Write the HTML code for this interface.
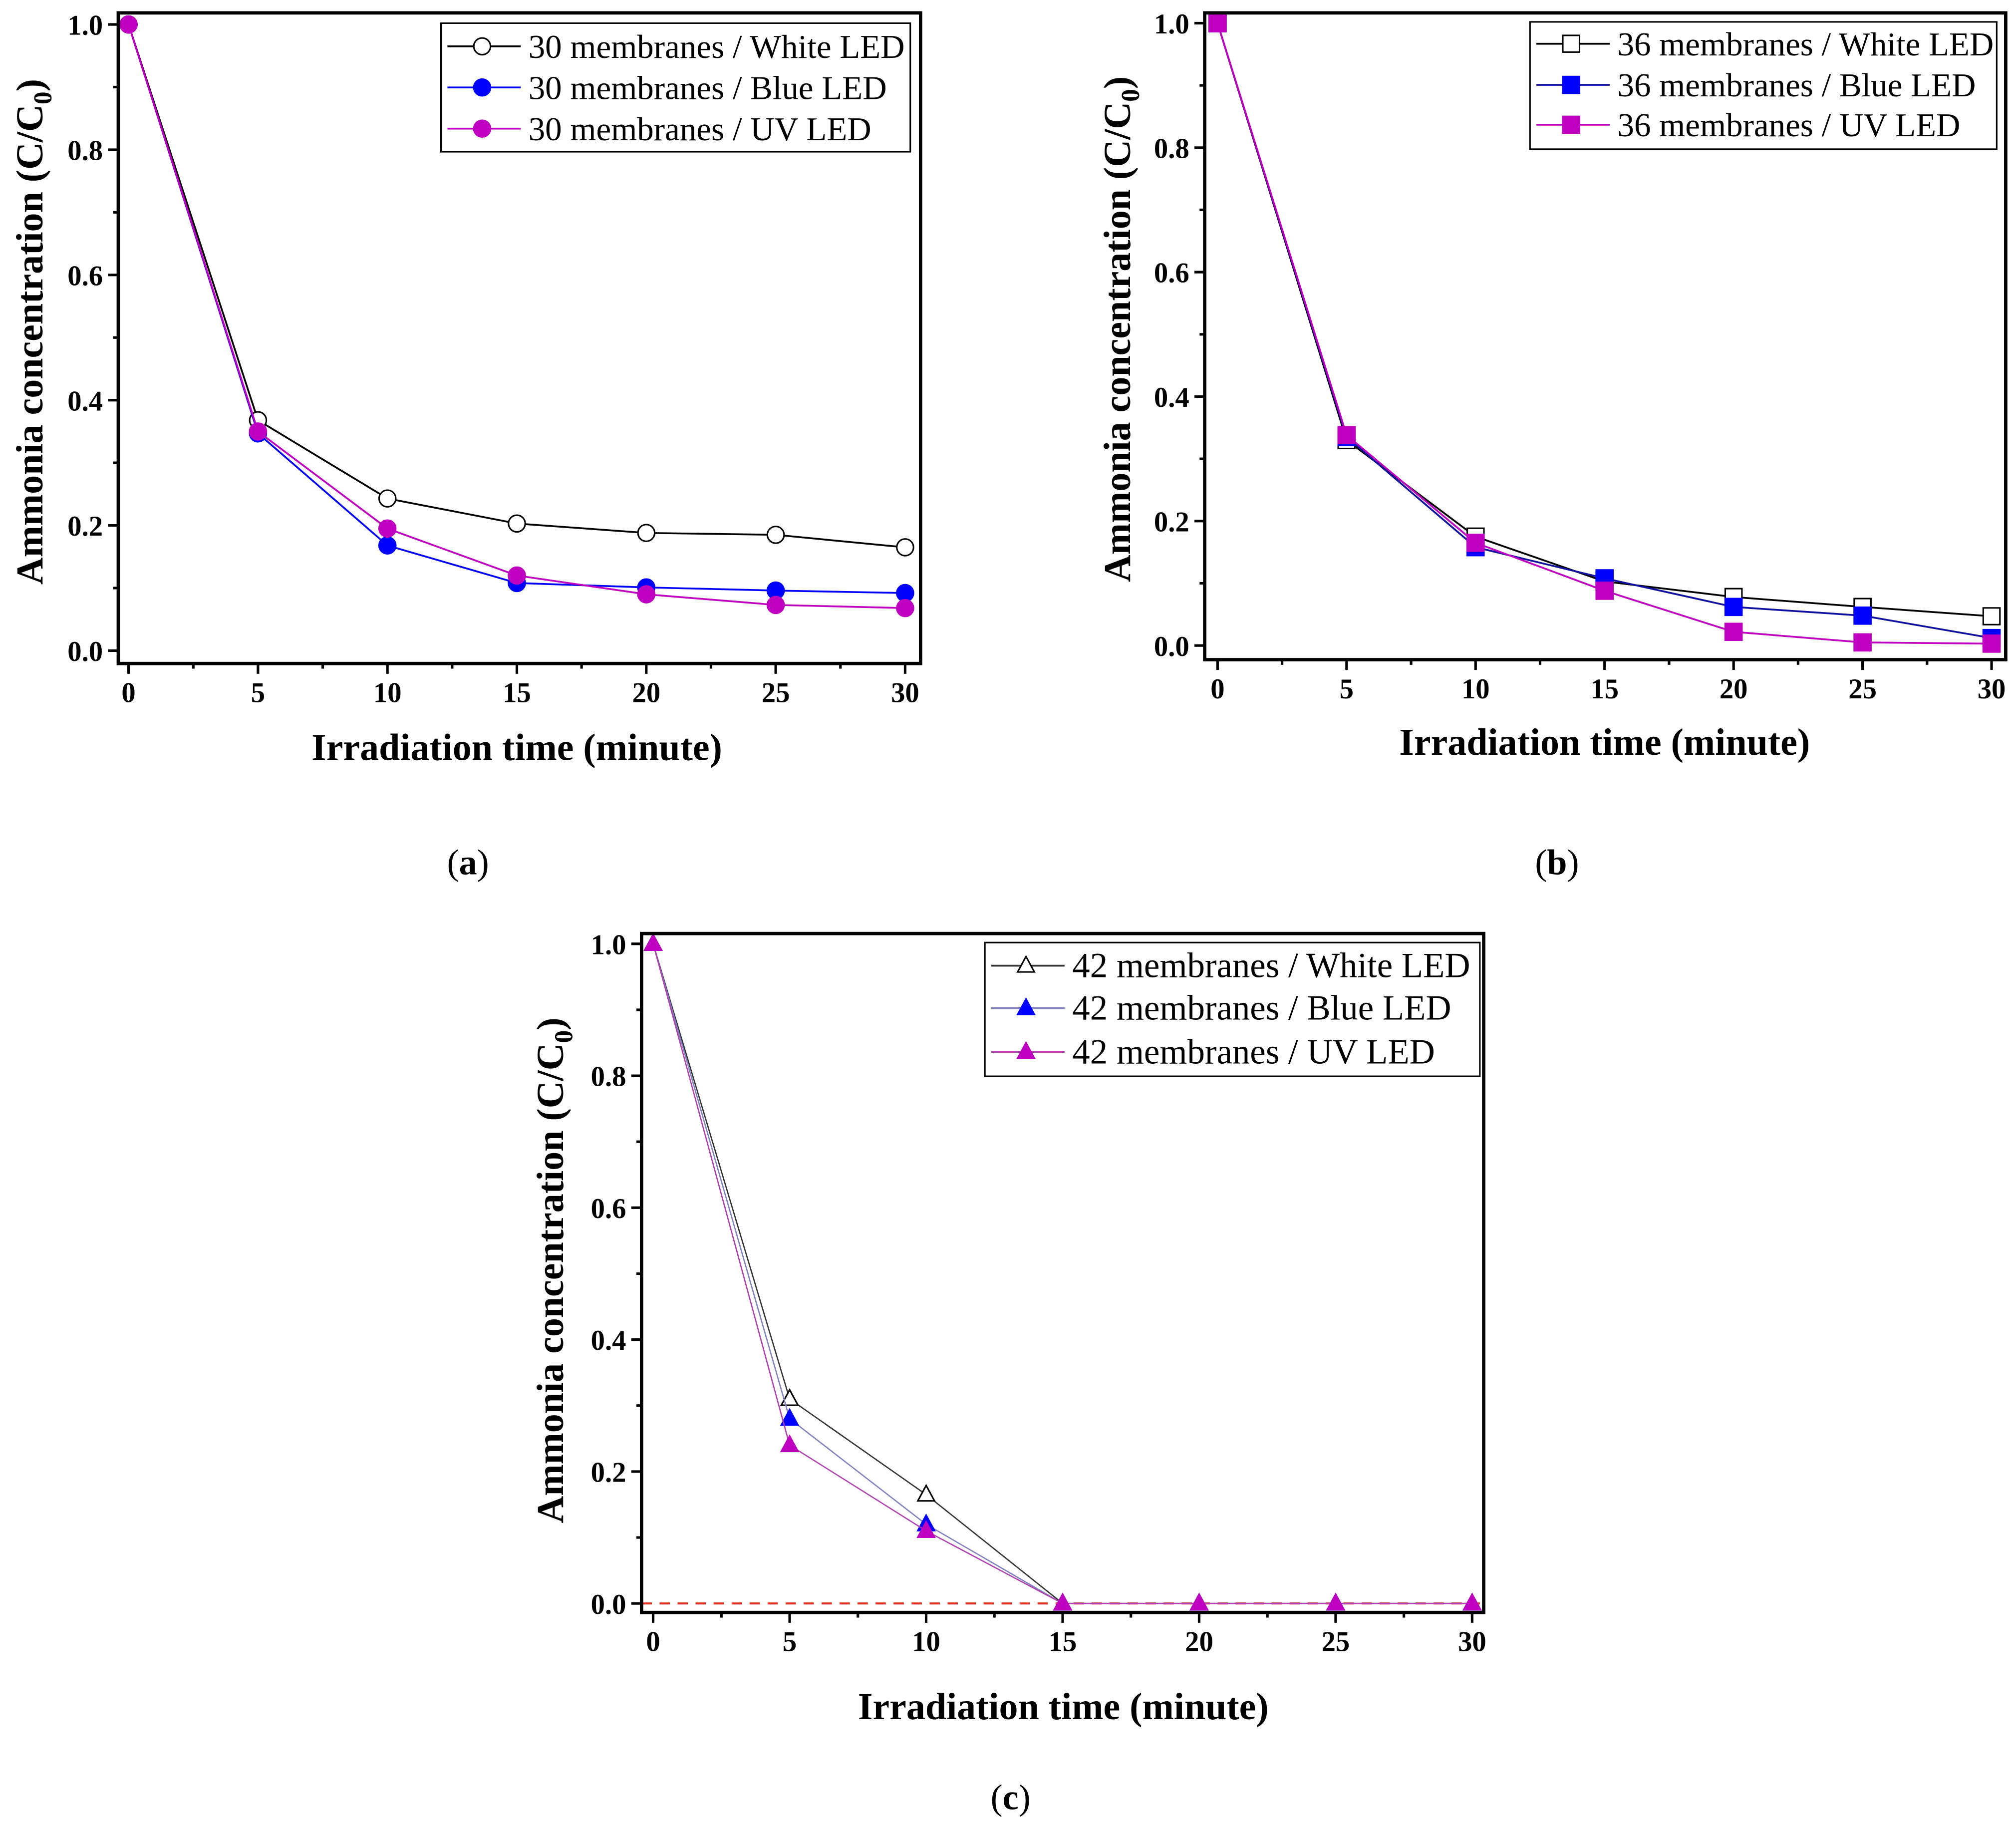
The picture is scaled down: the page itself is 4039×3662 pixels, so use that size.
<!DOCTYPE html>
<html><head><meta charset="utf-8"><style>
html,body{margin:0;padding:0;background:#fff;}
svg{display:block;}
text{font-family:"Liberation Serif",serif;}
</style></head><body>
<svg id="fig" width="4039" height="3662" viewBox="0 0 1568 1421.6" xmlns="http://www.w3.org/2000/svg">
<rect x="0" y="0" width="1568" height="1421.6" fill="#fff"/>
</svg>
<script>
const xCats = [0,5,10,15,20,25,30];
const xTickLabels = ["0","5","10","15","20","25","30"];
const yTickLabels = ["0.0","0.2","0.4","0.6","0.8","1.0"];
const yTickVals = [0,0.2,0.4,0.6,0.8,1.0];
const aWhite = [1,0.368,0.243,0.203,0.188,0.185,0.165];
const aBlue  = [1,0.347,0.168,0.108,0.101,0.096,0.092];
const aUV    = [1,0.350,0.195,0.120,0.090,0.073,0.068];
const bWhite = [1,0.330,0.175,0.103,0.078,0.062,0.047];
const bBlue  = [1,0.335,0.158,0.108,0.062,0.048,0.012];
const bUV    = [1,0.338,0.165,0.088,0.022,0.005,0.003];
const cWhite = [1,0.310,0.165,0,0,0,0];
const cBlue  = [1,0.280,0.120,0,0,0,0];
const cUV    = [1,0.240,0.110,0,0,0,0];
const aLegend = ["30 membranes / White LED","30 membranes / Blue LED","30 membranes / UV LED"];
const bLegend = ["36 membranes / White LED","36 membranes / Blue LED","36 membranes / UV LED"];
const cLegend = ["42 membranes / White LED","42 membranes / Blue LED","42 membranes / UV LED"];

const NS="http://www.w3.org/2000/svg";
const svg=document.getElementById('fig');
function mk(tag,attrs,parent,txt){const e=document.createElementNS(NS,tag);for(const k in attrs)e.setAttribute(k,attrs[k]);if(txt!==undefined)e.textContent=txt;(parent||svg).appendChild(e);return e;}

function marker(g,shape,x,y,fill,stroke,r){
  let m;
  if(shape==='circle') m=mk('circle',{cx:x,cy:y,r:r,fill:fill,stroke:stroke,'stroke-width':1.2},g);
  else if(shape==='square') m=mk('rect',{x:x-r,y:y-r,width:2*r,height:2*r,fill:fill,stroke:stroke,'stroke-width':1.2},g);
  else m=mk('polygon',{points:`${x},${y-r*1.1} ${x-r},${y+r*0.75} ${x+r},${y+r*0.75}`,fill:fill,stroke:stroke,'stroke-width':1.2},g);
  return m;
}

function panel(id,P,series,legendTxt,shape,lg,titles,lw){
  const g=mk('g',{});
  
  
  const xs=v=>P.x0+(v/30)*(P.x30-P.x0);
  const ys=v=>P.y0+v*(P.y1-P.y0);
  for(let i=0;i<=12;i++){const v=i*2.5,x=xs(v);mk('line',{x1:x,y1:P.bottom,x2:x,y2:P.bottom+(i%2?4:8),stroke:'#000','stroke-width':2},g);}
  xCats.forEach((v,i)=>{const t=mk('text',{x:xs(v),y:P.bottom+30,'font-size':22,'font-weight':'bold','text-anchor':'middle'},g,xTickLabels[i]);
    });
  for(let i=0;i<=10;i++){const y=ys(i/10);mk('line',{x1:P.left,y1:y,x2:P.left-(i%2?4:8),y2:y,stroke:'#000','stroke-width':2},g);}
  yTickVals.forEach((v,i)=>{const t=mk('text',{x:P.left-12,y:ys(v)+8,'font-size':22,'font-weight':'bold','text-anchor':'end'},g,yTickLabels[i]);
    });
  if(P.dash){mk('line',{x1:P.left,y1:ys(0),x2:P.right,y2:ys(0),stroke:'#e03020','stroke-width':1.6,'stroke-dasharray':'8,6'},g);}
  series.forEach(s=>{
    const pl=mk('polyline',{points:s.vals.map((v,i)=>xs(xCats[i])+','+ys(v)).join(' '),fill:'none',stroke:s.line,'stroke-width':lw},g);
    
    s.vals.forEach((v,i)=>{const m=marker(g,shape,xs(xCats[i]),ys(v),s.fill,s.stroke,6.5);
      });
  });
  const fr=mk('rect',{x:P.left,y:P.top,width:P.right-P.left,height:P.bottom-P.top,fill:'none',stroke:'#000','stroke-width':2.6},g);
  
  const lgG=mk('g',{},g);
  
  mk('rect',{x:lg.x,y:lg.y,width:lg.w,height:lg.h,fill:'#fff',stroke:'#000','stroke-width':1.2},lgG);
  series.forEach((s,i)=>{const y=lg.rows[i];
    mk('line',{x1:lg.x+5,y1:y,x2:lg.x+62,y2:y,stroke:s.line,'stroke-width':1.4},lgG);
    marker(lgG,shape,lg.x+32,y,s.fill,s.stroke,6.5);
    const t=mk('text',{x:lg.x+68,y:y+9,'font-size':lg.fs},lgG,legendTxt[i]);
    });
  const xt=mk('text',{x:titles.xx,y:titles.xy,'font-size':29.5,'font-weight':'bold','text-anchor':'middle'},g,'Irradiation time (minute)');
  
  const yt=mk('text',{x:0,y:0,'font-size':29.5,'font-weight':'bold','text-anchor':'middle',transform:`translate(${titles.yx},${titles.yy}) rotate(-90)`},g);
  
  mk('tspan',{},yt,'Ammonia concentration (C/C');
  mk('tspan',{'font-size':20,dy:7},yt,'0');
  mk('tspan',{dy:-7},yt,')');
  const cap=mk('text',{x:titles.cx,y:titles.cy,'font-size':28,'text-anchor':'middle'},g);
  
  mk('tspan',{},cap,'(');mk('tspan',{'font-weight':'bold'},cap,id);mk('tspan',{},cap,')');
}

panel('a',{left:92,right:716,top:10,bottom:516,x0:100,x30:704,y0:506,y1:19},
  [{name:'white',vals:aWhite,line:'#000',fill:'#fff',stroke:'#000'},
   {name:'blue',vals:aBlue,line:'#0000ff',fill:'#0000ff',stroke:'#0000ff'},
   {name:'uv',vals:aUV,line:'#c000c0',fill:'#c000c0',stroke:'#c000c0'}],
  aLegend,'circle',{x:343,y:18,w:365,h:100,rows:[36,68,100],fs:26},
  {xx:402,xy:591,yx:33,yy:258,cx:364,cy:680},1.4);
panel('b',{left:937,right:1560,top:10,bottom:513,x0:947,x30:1549,y0:502,y1:18},
  [{name:'white',vals:bWhite,line:'#000',fill:'#fff',stroke:'#000'},
   {name:'blue',vals:bBlue,line:'#1010a0',fill:'#0000ff',stroke:'#0000ff'},
   {name:'uv',vals:bUV,line:'#c000c0',fill:'#c000c0',stroke:'#c000c0'}],
  bLegend,'square',{x:1190,y:17,w:363,h:99,rows:[34,66,97],fs:26},
  {xx:1248,xy:587,yx:879,yy:256,cx:1211,cy:680},1.4);
panel('c',{left:499,right:1154,top:726,bottom:1254,x0:508,x30:1145,y0:1247,y1:734,dash:true},
  [{name:'white',vals:cWhite,line:'#333',fill:'#fff',stroke:'#000'},
   {name:'blue',vals:cBlue,line:'#8080c0',fill:'#0000ff',stroke:'#0000ff'},
   {name:'uv',vals:cUV,line:'#b040b0',fill:'#c000c0',stroke:'#c000c0'}],
  cLegend,'triangle',{x:766,y:733,w:385,h:104,rows:[751,784,818],fs:27.5},
  {xx:827,xy:1337,yx:438,yy:988,cx:786,cy:1407},1.0);
</script>
</body></html>
